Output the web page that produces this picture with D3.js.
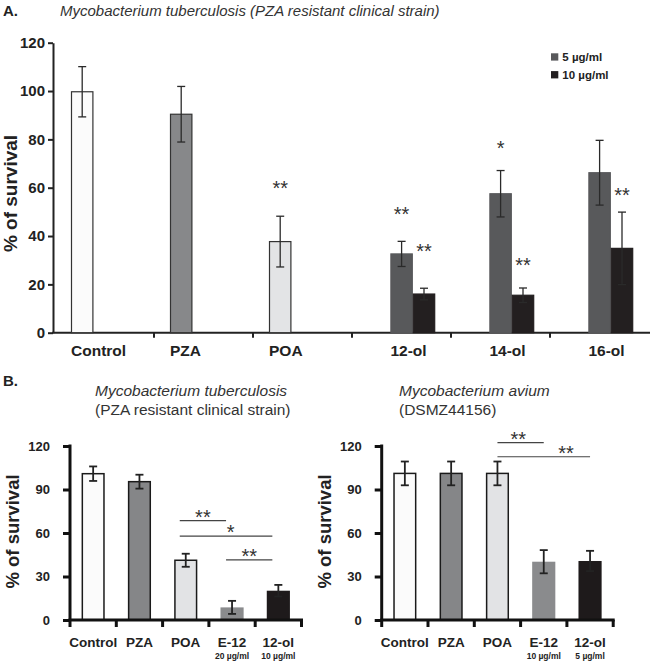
<!DOCTYPE html>
<html>
<head>
<meta charset="utf-8">
<script src="https://cdn.jsdelivr.net/npm/d3@7"></script>
<style>
  html, body { margin: 0; padding: 0; background: #ffffff; }
  svg { display: block; font-family: "Liberation Sans", Arial, sans-serif; }
</style>
</head>
<body>
<svg id="chart" width="651" height="663"></svg>
<script>
// ---------------- DATA ----------------
// Panel A
const topCategories = ["Control", "PZA", "POA", "12-ol", "14-ol", "16-ol"];
const topSingleValues = [99.7, 90.4, 37.7, null, null, null];
const topSingleErrors = [10.4, 11.5, 10.5, null, null, null];
const topSingleColors = ["#fbfbfb", "#87888a", "#e3e4e6", null, null, null];
const top5Values = [null, null, null, 32.6, 57.5, 66.2];
const top5Errors = [null, null, null, 5.2, 9.6, 13.4];
const top10Values = [null, null, null, 16.0, 15.5, 34.9];
const top10Errors = [null, null, null, 2.4, 3.0, 15.0];
const topSeriesNames = ["5 µg/ml", "10 µg/ml"];
const topSeriesColors = ["#58595b", "#231f20"];
const topTicks = [0, 20, 40, 60, 80, 100, 120];
// significance marks: category, which bar (0 = single/5 µg, 1 = 10 µg), label, height (% value)
const topStarCats = ["POA", "12-ol", "12-ol", "14-ol", "14-ol", "16-ol"];
const topStarSeries = [0, 0, 1, 0, 1, 1];
const topStarLabels = ["**", "**", "**", "*", "**", "**"];
const topStarHeights = [61.8, 50.8, 35.6, 78.4, 29.8, 59.0];

// Panel B
const bottomCategories = ["Control", "PZA", "POA", "E-12", "12-ol"];
const bottomColors = ["#fbfbfb", "#858688", "#e2e3e5", "#8a8b8d", "#1e1a1b"];
const bottomStroked = [true, true, true, false, false];
const bottomTicks = [0, 30, 60, 90, 120];

const tbValues = [100.9, 95.4, 41.2, 8.7, 20.2];
const tbErrors = [5.0, 4.8, 4.5, 4.5, 4.0];
const tbSubLabels = ["", "", "", "20 µg/ml", "10 µg/ml"];
const tbBracketFrom = ["POA", "POA", "E-12"];
const tbBracketTo = ["E-12", "12-ol", "12-ol"];
const tbBracketHeights = [68.5, 57.9, 41.4];
const tbBracketLabels = ["**", "*", "**"];
const tbBracketLabelPos = [0.5, 0.55, 0.5];

const avValues = [101.1, 101.1, 101.1, 40.2, 40.7];
const avErrors = [8.2, 8.2, 8.2, 8.0, 7.0];
const avSubLabels = ["", "", "", "10 µg/ml", "5 µg/ml"];
const avBracketFrom = ["POA", "POA"];
const avBracketTo = ["E-12", "12-ol"];
const avBracketHeights = [122.3, 112.6];
const avBracketLabels = ["**", "**"];
const avBracketLabelPos = [0.45, 0.74];

// ---------------- DRAWING ----------------
const svg = d3.select("#chart");
const FONT = '"Liberation Sans", Arial, sans-serif';
const STAR_FS = 20;
const starShift = STAR_FS * 0.57; // asterisk glyph centre above baseline

// ===== Panel A =====
svg.append("text").attr("x", 3).attr("y", 16)
  .attr("font-size", 15).attr("font-weight", "bold").attr("fill", "#222").text("A.");
svg.append("text").attr("x", 60).attr("y", 16)
  .attr("font-size", 15).attr("font-style", "italic").attr("fill", "#333")
  .text("Mycobacterium tuberculosis (PZA resistant clinical strain)");

const yA = d3.scaleLinear().domain([0, 120]).range([332.7, 42.7]);
const xA = d3.scaleBand().domain(topCategories).range([55, 649]).padding(0);
const barWA = 22.4;
const slotA = d3.scaleLinear().domain([0, 1]).range([16, 16 + barWA]);

const gA = svg.append("g");

// y axis
const yAxisA = d3.axisLeft(yA).tickValues(topTicks).tickSize(5).tickSizeOuter(0).tickPadding(3);
const gyA = gA.append("g").attr("transform", "translate(53,0)").call(yAxisA);
gyA.select(".domain").attr("stroke", "#222").attr("stroke-width", 2);
gyA.selectAll(".tick line").attr("stroke", "#222").attr("stroke-width", 2);
gyA.selectAll(".tick text").attr("font-family", FONT).attr("font-size", 15)
  .attr("font-weight", "bold").attr("fill", "#222");

// x axis line + boundary ticks
gA.append("line").attr("x1", 52).attr("x2", 650).attr("y1", yA(0)).attr("y2", yA(0))
  .attr("stroke", "#222").attr("stroke-width", 2);
gA.selectAll("line.xtickA").data(topCategories.slice(1)).join("line")
  .attr("class", "xtickA")
  .attr("x1", d => xA(d)).attr("x2", d => xA(d))
  .attr("y1", yA(0)).attr("y2", yA(0) + 5)
  .attr("stroke", "#222").attr("stroke-width", 2);

// bar records
const barsA = [];
topCategories.forEach((c, i) => {
  if (topSingleValues[i] != null) {
    barsA.push({ cat: c, s: 0, slot: 0, v: topSingleValues[i], e: topSingleErrors[i], fill: topSingleColors[i], stroke: "#333" });
  }
  if (top5Values[i] != null) {
    barsA.push({ cat: c, s: 0, slot: 1, v: top5Values[i], e: top5Errors[i], fill: topSeriesColors[0], stroke: topSeriesColors[0] });
  }
  if (top10Values[i] != null) {
    barsA.push({ cat: c, s: 1, slot: 2, v: top10Values[i], e: top10Errors[i], fill: topSeriesColors[1], stroke: topSeriesColors[1] });
  }
});
const barXA = d => xA(d.cat) + slotA(d.slot);

gA.selectAll("rect.barA").data(barsA).join("rect")
  .attr("class", "barA")
  .attr("x", d => barXA(d) + 0.5).attr("width", barWA - 1)
  .attr("y", d => yA(d.v)).attr("height", d => yA(0) - yA(d.v))
  .attr("fill", d => d.fill).attr("stroke", d => d.stroke).attr("stroke-width", 1.2);

// error bars
const ebA = gA.selectAll("g.ebA").data(barsA).join("g").attr("class", "ebA");
ebA.append("line")
  .attr("x1", d => barXA(d) + barWA / 2).attr("x2", d => barXA(d) + barWA / 2)
  .attr("y1", d => yA(d.v - d.e)).attr("y2", d => yA(d.v + d.e))
  .attr("stroke", "#2a2a2a").attr("stroke-width", 1.3);
ebA.append("line")
  .attr("x1", d => barXA(d) + barWA / 2 - 4).attr("x2", d => barXA(d) + barWA / 2 + 4)
  .attr("y1", d => yA(d.v + d.e)).attr("y2", d => yA(d.v + d.e))
  .attr("stroke", "#2a2a2a").attr("stroke-width", 1.3);
ebA.append("line")
  .attr("x1", d => barXA(d) + barWA / 2 - 4).attr("x2", d => barXA(d) + barWA / 2 + 4)
  .attr("y1", d => yA(d.v - d.e)).attr("y2", d => yA(d.v - d.e))
  .attr("stroke", "#2a2a2a").attr("stroke-width", 1.3);

// stars
topStarCats.forEach((c, i) => {
  const i0 = topCategories.indexOf(c);
  const slot = topSingleValues[i0] != null ? 0 : (topStarSeries[i] === 0 ? 1 : 2);
  const cx = xA(c) + slotA(slot) + barWA / 2;
  gA.append("text").attr("x", cx).attr("y", yA(topStarHeights[i]) + starShift)
    .attr("text-anchor", "middle").attr("font-size", STAR_FS).attr("fill", "#333")
    .text(topStarLabels[i]);
});

// category labels
gA.selectAll("text.catA").data(topCategories).join("text")
  .attr("class", "catA")
  .attr("x", (d, i) => xA(d) + slotA(topSingleValues[i] != null ? 0 : 1))
  .attr("y", 356)
  .attr("font-size", 15.5).attr("font-weight", "bold").attr("fill", "#222")
  .text(d => d);

// y label
gA.append("text").attr("transform", `translate(17,${193.5}) rotate(-90)`)
  .attr("text-anchor", "middle").attr("font-size", 19).attr("font-weight", "bold").attr("fill", "#222")
  .text("% of survival");

// legend
const legA = gA.append("g");
topSeriesNames.forEach((n, i) => {
  legA.append("rect").attr("x", 551).attr("y", 53.3 + i * 17.8).attr("width", 7.3).attr("height", 7.3)
    .attr("fill", topSeriesColors[i]);
  legA.append("text").attr("x", 562.3).attr("y", 61 + i * 17.8)
    .attr("font-size", 11.5).attr("font-weight", "bold").attr("fill", "#222").text(n);
});

// ===== Panel B =====
svg.append("text").attr("x", 3).attr("y", 386)
  .attr("font-size", 15).attr("font-weight", "bold").attr("fill", "#222").text("B.");

function drawPanelB(opts) {
  const { axisX, values, errors, subLabels, bFrom, bTo, bH, bLab, bPos, bDx, title1, title2, titleX } = opts;
  const g = svg.append("g");
  const y = d3.scaleLinear().domain([0, 120]).range([620, 446]);
  const x = d3.scaleBand().domain(bottomCategories).range([axisX, axisX + 231.5])
    .paddingInner(0.5).paddingOuter(0.25);
  const step = x.step();
  const bandStart = d => x(d) - step * 0.25;

  // titles
  g.append("text").attr("x", titleX).attr("y", 396)
    .attr("font-size", 15.5).attr("font-style", "italic").attr("fill", "#333").text(title1);
  g.append("text").attr("x", titleX).attr("y", 414.5)
    .attr("font-size", 15.5).attr("fill", "#333").text(title2);

  // bars
  const recs = bottomCategories.map((c, i) => ({ cat: c, v: values[i], e: errors[i], fill: bottomColors[i], stroked: bottomStroked[i] }));
  g.selectAll("rect.barB").data(recs).join("rect").attr("class", "barB")
    .attr("x", d => x(d.cat) + (d.stroked ? 0.75 : 0))
    .attr("width", d => x.bandwidth() - (d.stroked ? 1.5 : 0))
    .attr("y", d => y(d.v)).attr("height", d => y(0) - y(d.v))
    .attr("fill", d => d.fill)
    .attr("stroke", d => d.stroked ? "#1a1a1a" : "none").attr("stroke-width", 1.5);

  // error bars
  const eb = g.selectAll("g.ebB").data(recs).join("g").attr("class", "ebB");
  const cx = d => x(d.cat) + x.bandwidth() / 2;
  eb.append("line").attr("x1", cx).attr("x2", cx)
    .attr("y1", d => y(d.v - d.e)).attr("y2", d => y(d.v + d.e))
    .attr("stroke", "#222").attr("stroke-width", 1.8);
  [1, -1].forEach(sgn => {
    eb.append("line").attr("x1", d => cx(d) - 4).attr("x2", d => cx(d) + 4)
      .attr("y1", d => y(d.v + sgn * d.e)).attr("y2", d => y(d.v + sgn * d.e))
      .attr("stroke", "#222").attr("stroke-width", 1.8);
  });

  // axes
  const yAxis = d3.axisLeft(y).tickValues(bottomTicks).tickSize(7).tickSizeOuter(0).tickPadding(13);
  const gy = g.append("g").attr("transform", `translate(${axisX},0)`).call(yAxis);
  gy.select(".domain").attr("stroke", "#111").attr("stroke-width", 3)
    .attr("d", `M0,${y(120) - 1.5}V${y(0)}`);
  gy.selectAll(".tick line").attr("stroke", "#111").attr("stroke-width", 3);
  gy.selectAll(".tick text").attr("font-family", FONT).attr("font-size", 13)
    .attr("font-weight", "bold").attr("fill", "#222");

  g.append("line").attr("x1", axisX - 1.5).attr("x2", axisX + 231.5 + 1.5).attr("y1", y(0)).attr("y2", y(0))
    .attr("stroke", "#111").attr("stroke-width", 3);
  const bounds = bottomCategories.map(bandStart).concat([axisX + 231.5]);
  g.selectAll("line.xtickB").data(bounds).join("line").attr("class", "xtickB")
    .attr("x1", d => d).attr("x2", d => d).attr("y1", y(0)).attr("y2", y(0) + 7)
    .attr("stroke", "#111").attr("stroke-width", 3);

  // category labels
  g.selectAll("text.catB").data(bottomCategories).join("text").attr("class", "catB")
    .attr("x", d => x(d) + x.bandwidth() / 2).attr("y", 646.5)
    .attr("text-anchor", "middle").attr("font-size", 13.5).attr("font-weight", "bold").attr("fill", "#222")
    .text(d => d);
  g.selectAll("text.subB").data(bottomCategories).join("text").attr("class", "subB")
    .attr("x", d => x(d) + x.bandwidth() / 2).attr("y", 659)
    .attr("text-anchor", "middle").attr("font-size", 8.5).attr("font-weight", "bold").attr("fill", "#222")
    .text((d, i) => subLabels[i]);

  // y label
  g.append("text").attr("transform", `translate(${axisX - 51},${531.5}) rotate(-90)`)
    .attr("text-anchor", "middle").attr("font-size", 18.5).attr("font-weight", "bold").attr("fill", "#222")
    .text("% of survival");

  // brackets
  bFrom.forEach((f, i) => {
    const x1 = x(f) + x.bandwidth() / 2 + bDx;
    const x2 = x(bTo[i]) + x.bandwidth() / 2 + bDx;
    const yy = y(bH[i]);
    g.append("line").attr("x1", x1).attr("x2", x2).attr("y1", yy).attr("y2", yy)
      .attr("stroke", "#444").attr("stroke-width", 1.2);
    g.append("text").attr("x", x1 + (x2 - x1) * bPos[i]).attr("y", yy - 8.5 + starShift)
      .attr("text-anchor", "middle").attr("font-size", STAR_FS).attr("fill", "#333").text(bLab[i]);
  });
}

drawPanelB({
  axisX: 70, values: tbValues, errors: tbErrors, subLabels: tbSubLabels,
  bFrom: tbBracketFrom, bTo: tbBracketTo, bH: tbBracketHeights, bLab: tbBracketLabels, bPos: tbBracketLabelPos,
  bDx: -6, title1: "Mycobacterium tuberculosis", title2: "(PZA resistant clinical strain)", titleX: 95
});
drawPanelB({
  axisX: 381.7, values: avValues, errors: avErrors, subLabels: avSubLabels,
  bFrom: avBracketFrom, bTo: avBracketTo, bH: avBracketHeights, bLab: avBracketLabels, bPos: avBracketLabelPos,
  bDx: 0, title1: "Mycobacterium avium", title2: "(DSMZ44156)", titleX: 399
});
</script>
</body>
</html>
